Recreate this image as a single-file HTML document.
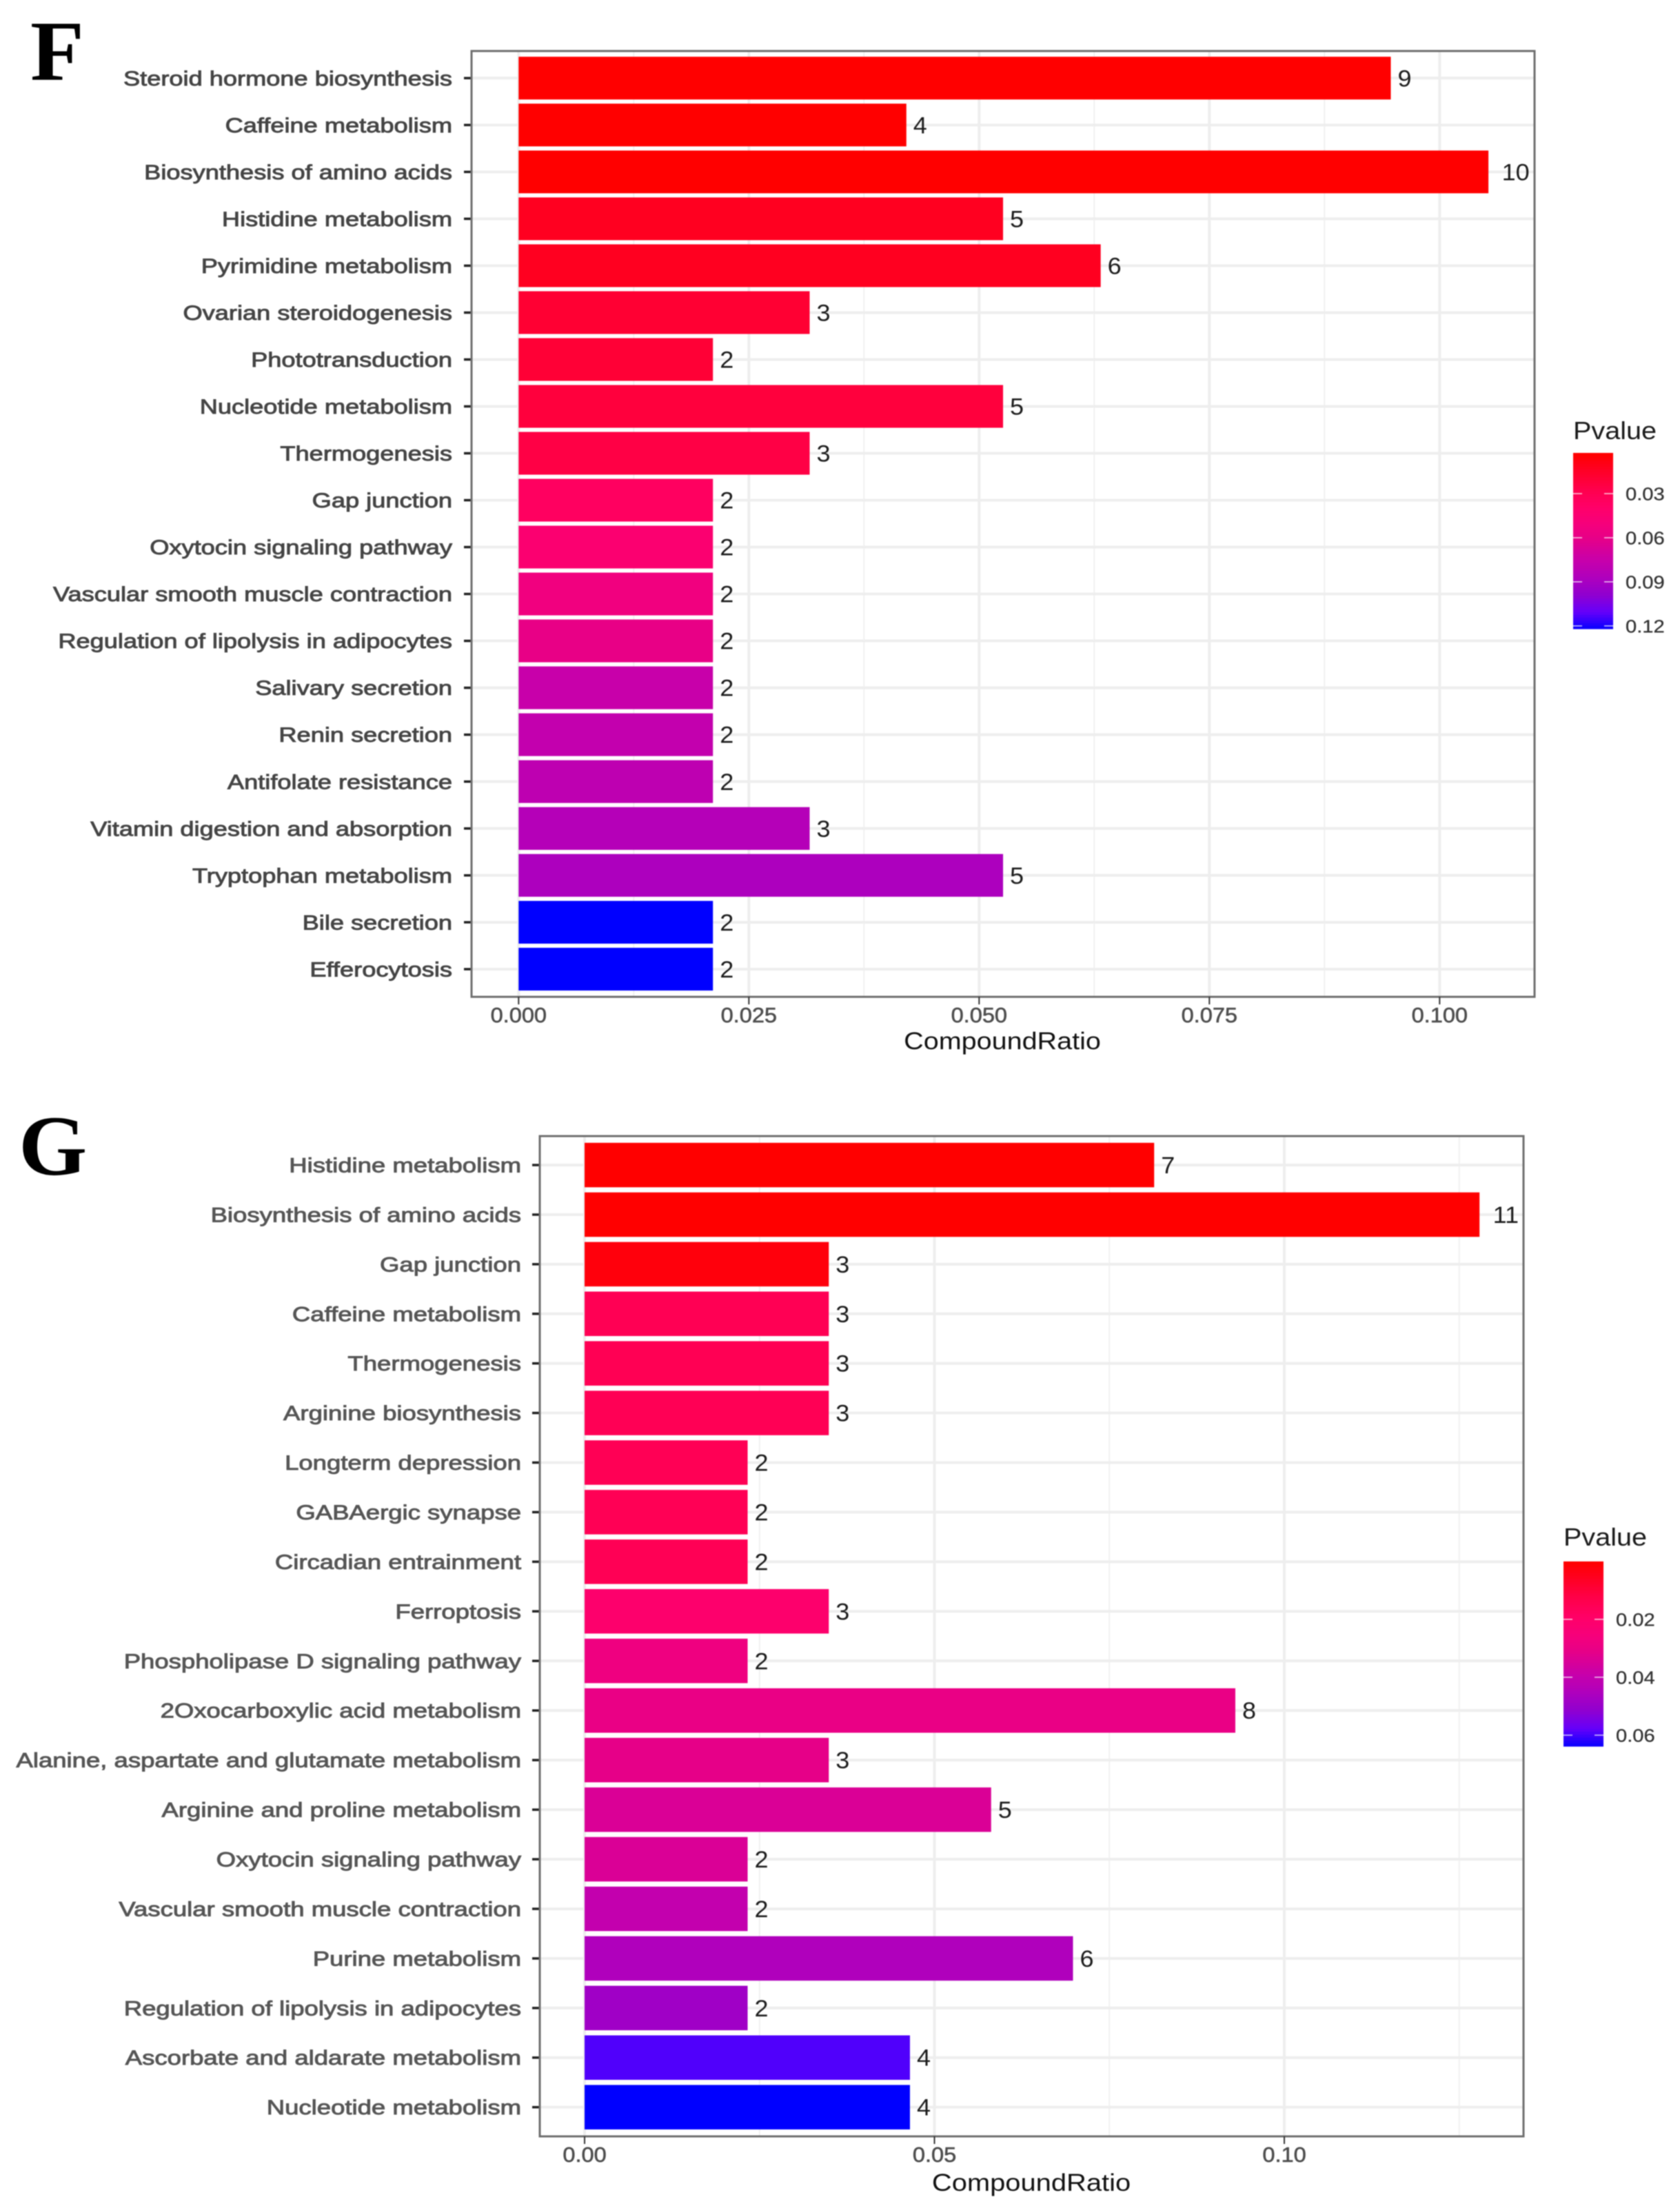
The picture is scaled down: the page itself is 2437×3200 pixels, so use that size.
<!DOCTYPE html>
<html lang="en">
<head>
<meta charset="utf-8">
<title>Pathway enrichment bar charts</title>
<style>
html,body{margin:0;padding:0;background:#fff;}
#figure{display:block;width:2437px;height:3200px;filter:blur(0.7px);}
text{font-family:"Liberation Sans",sans-serif;}
.letter{font-family:"Liberation Serif",serif;font-weight:bold;fill:#000;font-size:124px;}
</style>
</head>
<body>
<svg id="figure" xmlns="http://www.w3.org/2000/svg" width="2437" height="3200" viewBox="0 0 2437 3200">
<rect x="0" y="0" width="2437" height="3200" fill="#fff"></rect>
<text class="letter" transform="translate(44,116) scale(1.03,1)">F</text>
<text class="letter" transform="translate(27,1704) scale(1.03,1)">G</text>
<g id="chart-f"></g>
<g id="chart-g"></g>
</svg>
<script>
const categoriesF = ["Steroid hormone biosynthesis","Caffeine metabolism","Biosynthesis of amino acids","Histidine metabolism","Pyrimidine metabolism","Ovarian steroidogenesis","Phototransduction","Nucleotide metabolism","Thermogenesis","Gap junction","Oxytocin signaling pathway","Vascular smooth muscle contraction","Regulation of lipolysis in adipocytes","Salivary secretion","Renin secretion","Antifolate resistance","Vitamin digestion and absorption","Tryptophan metabolism","Bile secretion","Efferocytosis"];
const ratiosF = [0.0947,0.0421,0.1053,0.0526,0.0632,0.0316,0.0211,0.0526,0.0316,0.0211,0.0211,0.0211,0.0211,0.0211,0.0211,0.0211,0.0316,0.0526,0.0211,0.0211];
const countsF = [9,4,10,5,6,3,2,5,3,2,2,2,2,2,2,2,3,5,2,2];
const pvaluesF = [0.0023,0.0023,0.0023,0.0119,0.0119,0.0178,0.019,0.0214,0.0238,0.0346,0.043,0.0525,0.0585,0.0741,0.0765,0.0788,0.0836,0.0872,0.1219,0.1219];
const xTickLabelsF = ["0.000","0.025","0.050","0.075","0.100"];
const xMinorTicksF = [0.0125,0.0375,0.0625,0.0875];
const legendLabelsF = ["0.03","0.06","0.09","0.12"];

const categoriesG = ["Histidine metabolism","Biosynthesis of amino acids","Gap junction","Caffeine metabolism","Thermogenesis","Arginine biosynthesis","Longterm depression","GABAergic synapse","Circadian entrainment","Ferroptosis","Phospholipase D signaling pathway","2Oxocarboxylic acid metabolism","Alanine, aspartate and glutamate metabolism","Arginine and proline metabolism","Oxytocin signaling pathway","Vascular smooth muscle contraction","Purine metabolism","Regulation of lipolysis in adipocytes","Ascorbate and aldarate metabolism","Nucleotide metabolism"];
const ratiosG = [0.0814,0.1279,0.0349,0.0349,0.0349,0.0349,0.0233,0.0233,0.0233,0.0349,0.0233,0.0930,0.0349,0.0581,0.0233,0.0233,0.0698,0.0233,0.0465,0.0465];
const countsG = [7,11,3,3,3,3,2,2,2,3,2,8,3,5,2,2,6,2,4,4];
const pvaluesG = [0,0,0.0019,0.0145,0.0145,0.0147,0.0147,0.0147,0.0147,0.0204,0.0274,0.0293,0.0306,0.0338,0.0338,0.0396,0.0447,0.0479,0.0587,0.0638];
const xTickLabelsG = ["0.00","0.05","0.10"];
const xMinorTicksG = [0.025,0.075,0.125];
const legendLabelsG = ["0.02","0.04","0.06"];

const NS = "http://www.w3.org/2000/svg";

function make(parent, tag, attrs, name) {
  const el = document.createElementNS(NS, tag);
  for (const k in attrs) el.setAttribute(k, attrs[k]);
  
  
  parent.appendChild(el);
  return el;
}

function label(parent, str, x, y, size, sx, anchor, fill, name, stroke) {
  const attrs = {transform: "translate(" + x + "," + y + ") scale(" + sx + ",1)", "font-size": size, "text-anchor": anchor, fill: fill};
  if (stroke) { attrs.stroke = fill; attrs["stroke-width"] = stroke; }
  const el = make(parent, "text", attrs, name);
  el.textContent = str;
  return el;
}

function colorAt(t) {
  t = Math.max(0, Math.min(1, t));
  const stops = [[0,255,0,0],[0.1,255,0,40],[0.2,255,0,76],[0.3,255,0,104],[0.4,245,0,124],[0.48,230,0,136],[0.6,200,0,170],[0.7,176,0,188],[0.8,144,0,208],[0.9,100,0,250],[1,0,0,255]];
  for (let i = 1; i < stops.length; i++) {
    if (t <= stops[i][0]) {
      const a = stops[i - 1], b = stops[i];
      const u = (t - a[0]) / (b[0] - a[0]);
      return "rgb(" + Math.round(a[1] + (b[1] - a[1]) * u) + "," + Math.round(a[2] + (b[2] - a[2]) * u) + "," + Math.round(a[3] + (b[3] - a[3]) * u) + ")";
    }
  }
  return "rgb(0,0,255)";
}

function drawChart(root, geo, cats, ratios, counts, pvals, tickLabels, minorTicks, legendLabels) {
  const x = function (v) { return geo.x0 + v * geo.xPerUnit; };
  const y = function (i) { return geo.yFirst + i * geo.rowStep; };
  const pT = function (p) { return (p - geo.pMin) / (geo.pMax - geo.pMin); };
  const legendY = function (p) { return geo.legTop + (p - geo.pMin) / (geo.pMax - geo.pMin) * (geo.legBottom - geo.legTop); };

  make(root, "rect", {x: geo.left, y: geo.top, width: geo.right - geo.left, height: geo.bottom - geo.top, fill: "#fff"}, "panel-background");

  minorTicks.forEach(function (v) {
    make(root, "line", {x1: x(v), x2: x(v), y1: geo.top, y2: geo.bottom, stroke: "#f1f1f1", "stroke-width": 2}, "minor-gridline");
  });
  tickLabels.forEach(function (t) {
    const v = parseFloat(t);
    make(root, "line", {x1: x(v), x2: x(v), y1: geo.top, y2: geo.bottom, stroke: "#eeeeee", "stroke-width": 4}, "major-gridline");
  });
  cats.forEach(function (c, i) {
    make(root, "line", {x1: geo.left, x2: geo.right, y1: y(i), y2: y(i), stroke: "#eeeeee", "stroke-width": 4}, "row-gridline");
  });

  cats.forEach(function (c, i) {
    const w = ratios[i] * geo.xPerUnit;
    make(root, "rect", {x: x(0), y: y(i) - geo.barH / 2, width: w, height: geo.barH, fill: colorAt(pT(pvals[i]))}, "bar");
    const txtW = String(counts[i]).length * geo.digitW;
    label(root, String(counts[i]), x(ratios[i]) + txtW * 0.5 + 0.5, y(i) + 12, 34, 1.06, "start", "#1c1c1c", "bar-count-label");
    label(root, c, geo.catRight, y(i) + 10.5, 30, geo.catScale, "end", geo.catColor, "category-label", 0.9);
    make(root, "line", {x1: geo.left - 11, x2: geo.left, y1: y(i), y2: y(i), stroke: "#222", "stroke-width": 3.5}, "y-tick");
  });

  make(root, "rect", {x: geo.left, y: geo.top, width: geo.right - geo.left, height: geo.bottom - geo.top, fill: "none", stroke: "#6e6e6e", "stroke-width": 3}, "panel-border");

  tickLabels.forEach(function (t) {
    const v = parseFloat(t);
    make(root, "line", {x1: x(v), x2: x(v), y1: geo.bottom, y2: geo.bottom + 11, stroke: "#333", "stroke-width": 2}, "x-tick");
    label(root, t, x(v), geo.bottom + 37, 31, 1.05, "middle", "#4d4d4d", "x-tick-label", 0.6);
  });

  label(root, "CompoundRatio", geo.titleX, geo.titleY, 35, geo.titleScale, "middle", "#111", "x-axis-title");

  label(root, "Pvalue", geo.legX, geo.legTitleY, 36, 1.1, "start", "#1a1a1a", "legend-title");
  const steps = 64;
  for (let s = 0; s < steps; s++) {
    const p = geo.pMin + (geo.pMax - geo.pMin) * s / steps;
    const y0 = legendY(p);
    make(root, "rect", {x: geo.legX, y: y0, width: geo.legW, height: (geo.legBottom - geo.legTop) / steps + 0.6, fill: colorAt(pT(p))}, "colorbar-step");
  }
  legendLabels.forEach(function (t) {
    const py = legendY(parseFloat(t));
    make(root, "line", {x1: geo.legX, x2: geo.legX + 13, y1: py, y2: py, stroke: "#fff", "stroke-opacity": 0.75, "stroke-width": 1.6}, "colorbar-tick");
    make(root, "line", {x1: geo.legX + geo.legW - 13, x2: geo.legX + geo.legW, y1: py, y2: py, stroke: "#fff", "stroke-opacity": 0.75, "stroke-width": 1.6}, "colorbar-tick");
    label(root, t, geo.legX + geo.legW + 18, py + 9.5, 26, 1.12, "start", "#333", "colorbar-label", 0.3);
  });
}

drawChart(document.getElementById("chart-f"), {
  left: 684, right: 2226, top: 74, bottom: 1446,
  x0: 752.3, xPerUnit: 13360,
  yFirst: 113.3, rowStep: 68.03, barH: 62, digitW: 19,
  catRight: 656, catScale: 1.207, catColor: "#444",
  titleX: 1454, titleY: 1522, titleScale: 1.13,
  legX: 2282, legW: 58, legTop: 657, legBottom: 912, legTitleY: 637,
  pMin: 0.0023, pMax: 0.1219
}, categoriesF, ratiosF, countsF, pvaluesF, xTickLabelsF, xMinorTicksF, legendLabelsF);

drawChart(document.getElementById("chart-g"), {
  left: 783, right: 2210, top: 1648, bottom: 3099,
  x0: 848, xPerUnit: 10150,
  yFirst: 1690, rowStep: 71.93, barH: 64.5, digitW: 19,
  catRight: 756, catScale: 1.217, catColor: "#555",
  titleX: 1496, titleY: 3178, titleScale: 1.14,
  legX: 2268, legW: 58, legTop: 2265, legBottom: 2533, legTitleY: 2242,
  pMin: 0, pMax: 0.0638
}, categoriesG, ratiosG, countsG, pvaluesG, xTickLabelsG, xMinorTicksG, legendLabelsG);
</script>
</body>
</html>
